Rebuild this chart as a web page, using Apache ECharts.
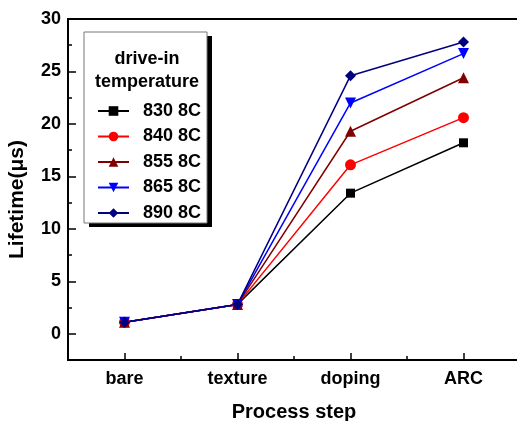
<!DOCTYPE html>
<html>
<head>
<meta charset="utf-8">
<script src="https://cdn.jsdelivr.net/npm/echarts@6/dist/echarts.min.js"></script>
<style>
  html, body { margin: 0; padding: 0; background: #fff; }
  #main { width: 517px; height: 421px; }
</style>
</head>
<body>
<div id="main"></div>
<script>
var steps = ['bare', 'texture', 'doping', 'ARC'];
var names = ['830 8C', '840 8C', '855 8C', '865 8C', '890 8C'];
var t830 = [1.1, 2.8, 13.4, 18.2];
var t840 = [1.1, 2.8, 16.1, 20.6];
var t855 = [1.1, 2.8, 19.3, 24.4];
var t865 = [1.1, 2.8, 22.0, 26.7];
var t890 = [1.1, 2.8, 24.6, 27.8];
var majorTicks = [0, 5, 10, 15, 20, 25, 30];

var chart = echarts.init(document.getElementById('main'));
var font = 'Liberation Sans';

function line(name, data, color, symbol, rot) {
    return {
        name: name,
        type: 'line',
        data: data,
        symbol: symbol,
        symbolSize: symbol == 'rect' ? 9 : 11,
        symbolRotate: rot || 0,
        lineStyle: { color: color, width: 1.5 },
        itemStyle: { color: color },
        emphasis: { disabled: true }
    };
}

var option = {
    animation: false,
    textStyle: { fontFamily: font },
    grid: { left: 68, top: 19, width: 452, height: 341, outerBoundsMode: 'none', containLabel: false,
            show: true, borderColor: '#000', borderWidth: 2 },
    xAxis: [
        {
            type: 'category',
            data: steps,
            name: 'Process step',
            nameLocation: 'middle',
            nameGap: 42,
            nameTextStyle: { fontSize: 20, fontWeight: 'bold', color: '#000' },
            axisLine: { show: true, onZero: false, lineStyle: { color: '#000', width: 2 } },
            axisTick: { show: true, alignWithLabel: true, inside: true, length: 7, lineStyle: { color: '#000', width: 1.5 } },
            axisLabel: { fontSize: 18, fontWeight: 'bold', color: '#000', margin: 10 }
        },
        {
            // minor ticks at category boundaries
            type: 'category',
            data: steps,
            position: 'bottom',
            axisLine: { show: false, onZero: false },
            axisTick: { show: true, inside: true, length: 4, lineStyle: { color: '#000', width: 1.5 } },
            axisLabel: { show: false }
        }
    ],
    yAxis: [
        {
            type: 'value',
            min: -2.5,
            max: 30,
            interval: 2.5,
            name: 'Lifetime(μs)',
            nameLocation: 'middle',
            nameGap: 40,
            nameTextStyle: { fontSize: 21, fontWeight: 'bold', color: '#000', padding: [0, 20, 0, 0] },
            axisLine: { show: true, lineStyle: { color: '#000', width: 2 } },
            axisTick: { show: true, inside: true, length: 4, lineStyle: { color: '#000', width: 1.5 } },
            axisLabel: { customValues: majorTicks, fontSize: 18, fontWeight: 'bold', color: '#000', margin: 7 },
            splitLine: { show: false }
        },
        {
            type: 'value',
            min: -2.5,
            max: 30,
            position: 'left',
            axisLine: { show: false },
            axisTick: { show: true, inside: true, length: 8, customValues: majorTicks, lineStyle: { color: '#000', width: 1.5 } },
            axisLabel: { show: false },
            splitLine: { show: false }
        }
    ],
    legend: {
        orient: 'vertical',
        left: 92,
        top: 97,
        itemWidth: 31,
        itemHeight: 12,
        itemGap: 7.5,
        data: names,
        textStyle: { fontSize: 18, fontWeight: 'bold', color: '#000', padding: [0, 0, 0, 9] }
    },
    graphic: [
        { type: 'rect', shape: { x: 89, y: 36, width: 123, height: 191 }, style: { fill: '#000' }, z: 1 },
        { type: 'rect', shape: { x: 84, y: 32, width: 123, height: 191 }, style: { fill: '#fff', stroke: '#777', lineWidth: 1 }, z: 2 },
        { type: 'text', z: 3,
          style: { text: 'drive-in', x: 147, y: 59, textAlign: 'center', textVerticalAlign: 'middle', font: 'bold 18px Liberation Sans', fill: '#000' } },
        { type: 'text', z: 3,
          style: { text: 'temperature', x: 147, y: 82, textAlign: 'center', textVerticalAlign: 'middle', font: 'bold 18px Liberation Sans', fill: '#000' } }
    ],
    series: [
        line(names[0], t830, '#000000', 'rect'),
        line(names[1], t840, '#ff0000', 'circle'),
        line(names[2], t855, '#800000', 'triangle'),
        line(names[3], t865, '#0000ff', 'triangle', 180),
        line(names[4], t890, '#000080', 'diamond')
    ]
};
chart.setOption(option);
</script>
</body>
</html>
